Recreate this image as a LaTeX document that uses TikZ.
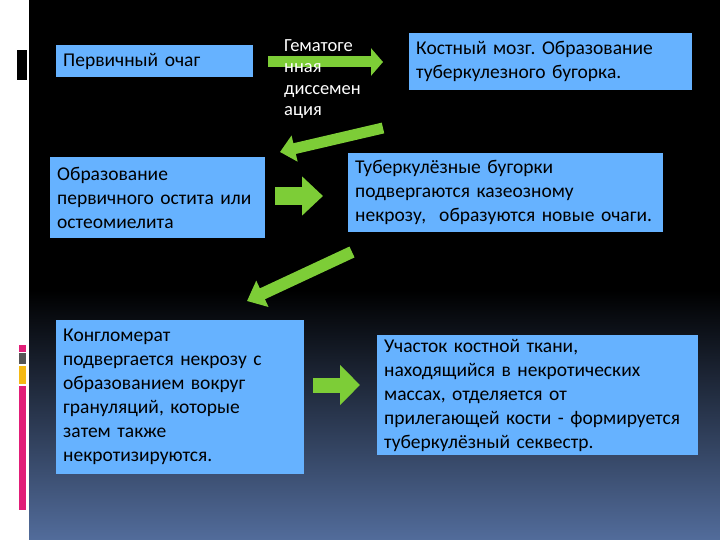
\documentclass[tikz,border=0pt]{standalone}
\usepackage{fontspec}
\setmainfont{Carlito}[WordSpace=0.7]
\frenchspacing
\usetikzlibrary{arrows.meta}
\definecolor{cajaazul}{RGB}{102,178,255}
\definecolor{verde}{RGB}{125,205,55}
\definecolor{fondoazul}{RGB}{82,108,155}
\definecolor{rosa}{RGB}{225,30,120}
\definecolor{gris}{RGB}{85,85,85}
\definecolor{naranja}{RGB}{245,185,20}

\begin{document}
\begin{tikzpicture}[x=1pt,y=-1pt,
  caja/.style={fill=cajaazul,anchor=north west,align=left,inner xsep=7pt,inner ysep=0pt,
    font=\fontsize{19.5}{24}\selectfont},
  flecha/.style={verde,line width=#1}]
  \useasboundingbox (0,0) rectangle (720,540);
  % fondo
  \fill[white] (0,0) rectangle (29,540);
  \fill[black] (29,0) rectangle (720,290);
  \shade[top color=black,bottom color=fondoazul] (29,290) rectangle (720,540);
  \fill[black] (17,50) rectangle (27,80);
  \fill[rosa] (19,345) rectangle (26,352);
  \fill[gris] (19,353) rectangle (26,364);
  \fill[naranja] (19,366) rectangle (26,384);
  \fill[rosa] (19,386) rectangle (26,510);
  % cajas
  \node[caja,minimum width=197pt,minimum height=32pt,text width=183pt] (foco) at (56,45)
    {Первичный очаг};
  \node[caja,minimum width=283pt,minimum height=57pt,text width=269pt] (medula) at (409,33)
    {Костный мозг. Образование\\туберкулезного бугорка.};
  \node[caja,minimum width=215pt,minimum height=81pt,text width=201pt] (ostitis) at (50,157)
    {Образование\\первичного остита или\\остеомиелита};
  \node[caja,minimum width=315pt,minimum height=79pt,text width=301pt] (necrosis) at (348,153)
    {Туберкулёзные бугорки\\подвергаются казеозному\\некрозу, \ образуются новые очаги.};
  \node[caja,minimum width=248pt,minimum height=154pt,text width=234pt] (conglo) at (56,320)
    {Конгломерат\\подвергается некрозу с\\образованием вокруг\\грануляций, которые\\затем также\\некротизируются.};
  \node[caja,minimum width=321pt,minimum height=120pt,text width=307pt] (secuestro) at (377,335)
    {Участок костной ткани,\\находящийся в некротических\\массах, отделяется от\\прилегающей кости - формируется\\туберкулёзный секвестр.};
  % flechas
  \coordinate (a1) at (268,62);   \coordinate (b1) at (383,62);
  \coordinate (a2) at (383,128);  \coordinate (b2) at (280,152);
  \coordinate (a3) at (275,196);  \coordinate (b3) at (323,196);
  \coordinate (a4) at (352,252);  \coordinate (b4) at (247,301);
  \coordinate (a5) at (313,385);  \coordinate (b5) at (360,385);
  \draw[flecha=11pt,-{Triangle[width=27pt,length=12pt]}] (a1) -- (b1);
  \draw[flecha=11pt,-{Triangle[width=26pt,length=15pt]}] (a2) -- (b2);
  \draw[flecha=18pt,-{Triangle[width=38pt,length=21pt]}] (a3) -- (b3);
  \draw[flecha=12pt,-{Triangle[width=28pt,length=17pt]}] (a4) -- (b4);
  \draw[flecha=15pt,-{Triangle[width=39pt,length=20pt]}] (a5) -- (b5);
  \node[white,anchor=north west,align=left,inner sep=0pt,font=\fontsize{18.5}{21.5}\selectfont] (hemato) at (284,39)
    {Гематоге\\нная\\диссемен\\ация};
\end{tikzpicture}
\end{document}
